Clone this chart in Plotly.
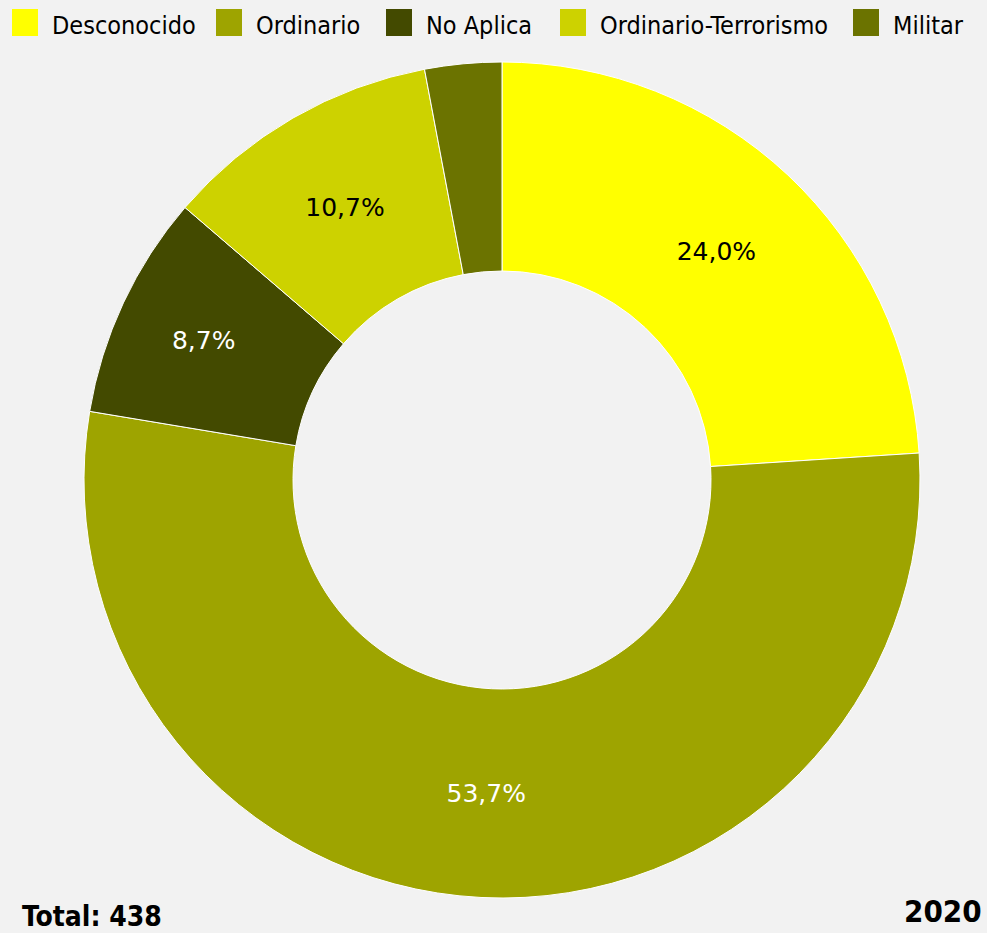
import plotly.graph_objects as go

categories = ["Desconocido", "Ordinario", "No Aplica", "Ordinario-Terrorismo", "Militar"]
values = [105, 235, 38, 47, 13]
colors = ["#FFFF00", "#9EA400", "#434A00", "#CDD200", "#6B7300"]
text_colors = ["#000000", "#FFFFFF", "#FFFFFF", "#000000", "#FFFFFF"]
show_label = [True, True, True, True, False]
total_label = "Total: 438"
year_label = "2020"

W, H = 987, 933
legend_font = "Liberation Sans Narrow, DejaVu Sans Condensed, Roboto Condensed, Arial Narrow, sans-serif"

fig = go.Figure()
fig.add_trace(go.Pie(
    labels=categories,
    values=values,
    hole=0.5,
    sort=False,
    direction="clockwise",
    rotation=0,
    marker=dict(colors=colors, line=dict(color="#FFFFFF", width=1)),
    texttemplate=["%{percent:.1%}" if s else "" for s in show_label],
    textposition="inside",
    insidetextorientation="horizontal",
    textfont=dict(family="DejaVu Sans", size=25, color=text_colors),
    hoverinfo="label+value+percent",
    showlegend=False,
    domain=dict(x=[84 / W, 920 / W], y=[1 - 898 / H, 1 - 62 / H]),
))

# custom legend
legend_x = [12, 216, 386, 560, 853]
shapes = []
annotations = []
for cat, col, lx in zip(categories, colors, legend_x):
    shapes.append(dict(type="rect", xref="paper", yref="paper",
                       x0=lx / W, x1=(lx + 26) / W, y0=1 - 36 / H, y1=1 - 9 / H,
                       fillcolor=col, line=dict(width=0)))
    annotations.append(dict(text=cat, xref="paper", yref="paper",
                            x=(lx + 38) / W, y=1 - 26 / H, xanchor="left", yanchor="middle",
                            showarrow=False, font=dict(family=legend_font, size=25, color="#000000")))

annotations.append(dict(text="<b>" + total_label + "</b>", xref="paper", yref="paper",
                        x=20 / W, y=1 - 916 / H, xanchor="left", yanchor="middle",
                        showarrow=False, font=dict(family=legend_font, size=28, color="#000000")))
annotations.append(dict(text="<b>" + year_label + "</b>", xref="paper", yref="paper",
                        x=984 / W, y=1 - 911 / H, xanchor="right", yanchor="middle",
                        showarrow=False, font=dict(family=legend_font, size=31, color="#000000")))

fig.update_layout(
    width=W, height=H,
    margin=dict(l=0, r=0, t=0, b=0),
    paper_bgcolor="#F2F2F2",
    plot_bgcolor="#F2F2F2",
    separators=",.",
    shapes=shapes,
    annotations=annotations,
    showlegend=False,
)

fig.write_html(
    "out.html",
    config={"displayModeBar": False},
    post_script="document.body.style.margin='0';document.body.style.overflow='hidden';document.body.style.background='#F2F2F2';",
)
